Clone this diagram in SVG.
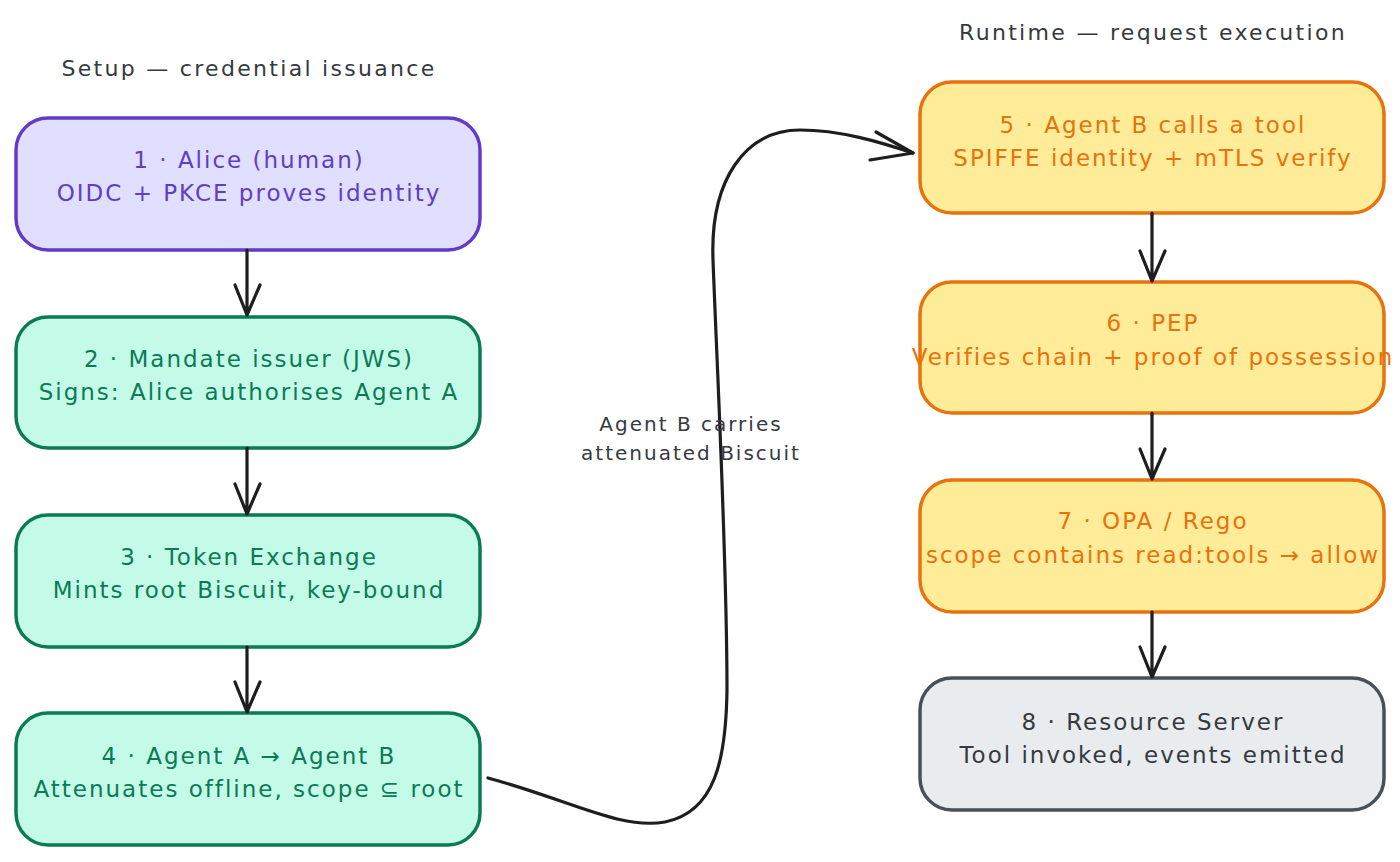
<svg xmlns="http://www.w3.org/2000/svg" width="1400" height="862" viewBox="0 0 1400 862">
<style>
text{font-family:"DejaVu Sans","Liberation Sans",sans-serif;text-anchor:middle}
.t{font-size:23px;letter-spacing:2px}
.h{font-size:22px;letter-spacing:2.3px;fill:#343a40}
.lbl{font-size:20px;letter-spacing:2px;fill:#343a40}
.box{stroke-width:3.5}
.purple rect{fill:#e0dfff;stroke:#5f3dc4}
.purple text{fill:#5f3dc4}
.green rect{fill:#c3fae8;stroke:#0b7a55}
.green text{fill:#0b7a55}
.yellow rect{fill:#ffec99;stroke:#e8720c}
.yellow text{fill:#e8720c}
.gray rect{fill:#e9ecef;stroke:#495057}
.gray text{fill:#343a40}
.conn path{fill:none;stroke:#1e1e1e;stroke-width:3.2;stroke-linecap:round;stroke-linejoin:round}
</style>
<rect width="1400" height="862" fill="#ffffff"/>
<g id="titles">
<text class="h" x="249" y="76">Setup — credential issuance</text>
<text class="h" x="1153" y="40">Runtime — request execution</text>
</g>
<g id="n1" class="purple"><rect class="box" x="16" y="118" width="464" height="132" rx="32"/>
<text class="t" x="249" y="168">1 · Alice (human)</text><text class="t" x="249" y="201">OIDC + PKCE proves identity</text></g>
<g id="n2" class="green"><rect class="box" x="16" y="317" width="464" height="131" rx="32"/>
<text class="t" x="249" y="367">2 · Mandate issuer (JWS)</text><text class="t" x="249" y="400">Signs: Alice authorises Agent A</text></g>
<g id="n3" class="green"><rect class="box" x="16" y="515" width="464" height="132" rx="32"/>
<text class="t" x="249" y="565">3 · Token Exchange</text><text class="t" x="249" y="598">Mints root Biscuit, key-bound</text></g>
<g id="n4" class="green"><rect class="box" x="16" y="713" width="464" height="132" rx="32"/>
<text class="t" x="249" y="764">4 · Agent A → Agent B</text><text class="t" x="249" y="797">Attenuates offline, scope ⊆ root</text></g>
<g id="n5" class="yellow"><rect class="box" x="920" y="82" width="464" height="131" rx="32"/>
<text class="t" x="1153" y="133">5 · Agent B calls a tool</text><text class="t" x="1153" y="166">SPIFFE identity + mTLS verify</text></g>
<g id="n6" class="yellow"><rect class="box" x="920" y="282" width="464" height="131" rx="32"/>
<text class="t" x="1153" y="331">6 · PEP</text><text class="t" x="1153" y="365">Verifies chain + proof of possession</text></g>
<g id="n7" class="yellow"><rect class="box" x="920" y="480" width="464" height="132" rx="32"/>
<text class="t" x="1153" y="529">7 · OPA / Rego</text><text class="t" x="1153" y="563">scope contains read:tools → allow</text></g>
<g id="n8" class="gray"><rect class="box" x="920" y="678" width="464" height="132" rx="32"/>
<text class="t" x="1153" y="730">8 · Resource Server</text><text class="t" x="1153" y="763">Tool invoked, events emitted</text></g>
<g id="connectors" class="conn">
<path d="M247,250 L247,315 M235,285 L247,315 L260,285"/>
<path d="M247,448 L247,514 M235,484 L247,514 L260,484"/>
<path d="M247,647 L247,712 M235,682 L247,712 L260,682"/>
<path d="M1152,213 L1152,281 M1140,251 L1152,281 L1165,251"/>
<path d="M1152,413 L1152,479 M1140,449 L1152,479 L1165,449"/>
<path d="M1152,612 L1152,677 M1140,647 L1152,677 L1165,647"/>
<path d="M488,778 C570,800 620,830 665,822 C715,812 726,760 727,690 C727,560 718,390 713,260 C710,180 745,130 800,130 C840,130 880,142 913,153"/>
<path d="M876,132 L913,153 L870,160"/>
</g>
<g id="label">
<text class="lbl" x="691" y="431">Agent B carries</text>
<text class="lbl" x="691" y="460">attenuated Biscuit</text>
</g>
</svg>
